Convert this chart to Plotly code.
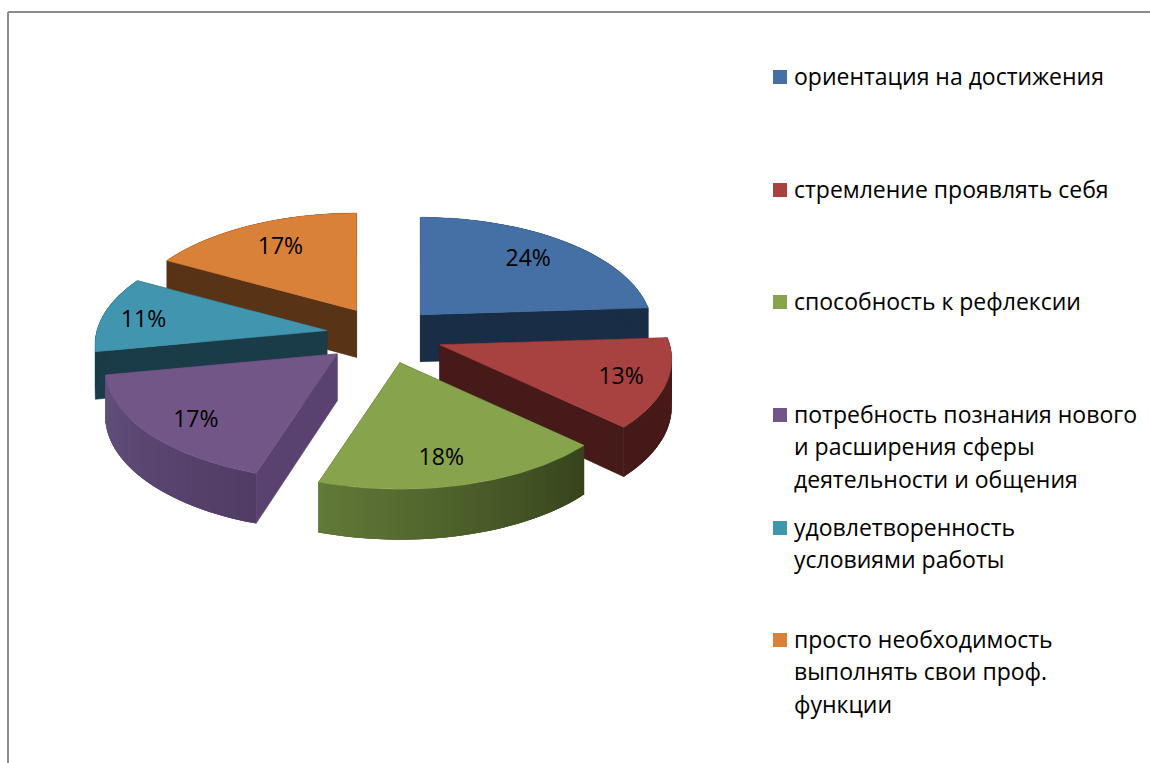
import math
import plotly.graph_objects as go

categories = ["ориентация на достижения", "стремление проявлять себя", "способность к рефлексии",
              "потребность познания нового и расширения сферы деятельности и общения",
              "удовлетворенность условиями работы", "просто необходимость выполнять свои проф. функции"]
values = [24, 13, 18, 17, 11, 17]
labels = ["24%", "13%", "18%", "17%", "11%", "17%"]
legend_lines = [["ориентация на достижения"], ["стремление проявлять себя"], ["способность к рефлексии"],
                ["потребность познания нового", "и расширения сферы", "деятельности и общения"],
                ["удовлетворенность", "условиями работы"],
                ["просто необходимость", "выполнять свои проф.", "функции"]]

top_colors = ["#4470a6", "#a84240", "#87a44c", "#725688", "#4195ae", "#d98039"]
wall_colors = ["#1a2d46", "#471a1a", "#3a451c", "#5a4270", "#193c48", "#593316"]
rim_from = ["#1a2d46", "#4a1b19", "#36431c", "#503c64", "#193c48", "#593316"]
rim_to = ["#1a2d46", "#451a18", "#627a38", "#63507d", "#193c48", "#593316"]
legend_y = [77, 190, 302, 415, 528, 640]
apex_nudge = [(-3.5, 0.5), (0.5, 0), (2, 0), (-1, 0), (3, 0), (4, 0)]
label_nudge = [(-3, 2), (7, 4), (-9, 3), (4, 6), (-12, 4), (5, 3)]
LINE_H = 32.5
FONT = "Open Sans"
FS = 23

CX, CY, RX, RY, P, PULL, DEPTH = 383, 335, 230, 110, 0.13, 0.26, 47


def proj(t, k=1.0):
    u, v = math.sin(t) * k, -math.cos(t) * k
    s = 1 / (1 - P * v)
    return RX * u * s, RY * v * s, s


def mix(a, b, f):
    ca = [int(a[i:i + 2], 16) for i in (1, 3, 5)]
    cb = [int(b[i:i + 2], 16) for i in (1, 3, 5)]
    return "#%02x%02x%02x" % tuple(round(x + (y - x) * f) for x, y in zip(ca, cb))


total = sum(values)
fig = go.Figure()


def poly(xs, ys, color, lw=0.6):
    fig.add_trace(go.Scatter(x=xs + xs[:1], y=ys + ys[:1], mode="lines", fill="toself", fillcolor=color,
                             line=dict(color=color, width=lw), hoverinfo="skip", showlegend=False))


slices = []
acc = 0.0
for i, val in enumerate(values):
    a0 = acc / total * 2 * math.pi
    acc += val
    a1 = acc / total * 2 * math.pi
    slices.append((i, a0, a1))

label_pos = {}
for i, a0, a1 in sorted(slices, key=lambda q: -math.cos((q[1] + q[2]) / 2)):
    m = (a0 + a1) / 2
    ax = CX + RX * PULL * math.sin(m) + apex_nudge[i][0]
    ay = CY - RY * PULL * math.cos(m) + apex_nudge[i][1]
    n = 64
    ts = [a0 + (a1 - a0) * j / n for j in range(n + 1)]
    rim = [proj(t) for t in ts]
    px = [ax + r[0] for r in rim]
    py = [ay + r[1] for r in rim]
    d = [DEPTH * (1 + (r[2] - 1) * 0.5) for r in rim]
    # cut walls
    for e in (0, n):
        poly([ax, px[e], px[e], ax], [ay, py[e], py[e] + d[e], ay + DEPTH], wall_colors[i])
    # outer wall: overlapping bands painted in order, so no seams show
    for j in range(n):
        e = min(j + 3, n)
        c = mix(rim_from[i], rim_to[i], (j + 0.5) / n)
        xs = px[j:e + 1] + px[j:e + 1][::-1]
        ys = py[j:e + 1] + [py[k] + d[k] for k in range(e, j - 1, -1)]
        poly(xs, ys, c, lw=0)
    # top
    poly([ax] + px, [ay] + py, top_colors[i])
    lx, ly, _ = proj(m)
    label_pos[i] = (ax + 0.77 * lx + label_nudge[i][0], ay + 0.77 * ly + label_nudge[i][1])

fig.add_trace(go.Scatter(x=[label_pos[i][0] for i in range(6)], y=[label_pos[i][1] for i in range(6)],
                         mode="text", text=labels, textfont=dict(family=FONT, size=FS, color="#000000"),
                         hoverinfo="skip", showlegend=False))

fig.add_trace(go.Scatter(x=[780] * 6, y=legend_y, mode="markers",
                         marker=dict(symbol="square", size=14, color=top_colors, line=dict(width=0)),
                         hoverinfo="skip", showlegend=False))

annotations = []
for y0, lines in zip(legend_y, legend_lines):
    for k, line in enumerate(lines):
        annotations.append(dict(x=794, y=y0 + k * LINE_H - 1.5, text=line, xref="x", yref="y", xanchor="left",
                                yanchor="middle", showarrow=False, xshift=-2,
                                font=dict(family=FONT, size=FS, color="#000000")))

shapes = [dict(type="line", xref="x", yref="y", x0=8, y0=12, x1=1150, y1=12, line=dict(color="#8c8c8c", width=2)),
          dict(type="line", xref="x", yref="y", x0=8, y0=12, x1=8, y1=763, line=dict(color="#8c8c8c", width=2))]

fig.update_layout(width=1150, height=763, margin=dict(l=0, r=0, t=0, b=0), paper_bgcolor="white",
                  plot_bgcolor="white", showlegend=False, annotations=annotations, shapes=shapes,
                  xaxis=dict(range=[0, 1150], visible=False, fixedrange=True),
                  yaxis=dict(range=[763, 0], visible=False, fixedrange=True))
fig.write_html("out.html", config={"displayModeBar": False},
               post_script="document.body.style.margin='0';document.documentElement.style.overflow='hidden';")
